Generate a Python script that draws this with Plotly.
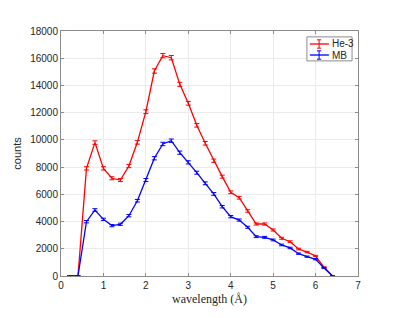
import plotly.graph_objects as go

wavelength = [0.2, 0.4, 0.6, 0.8, 1.0, 1.2, 1.4, 1.6, 1.8, 2.0, 2.2, 2.4, 2.6, 2.8, 3.0, 3.2,
              3.4, 3.6, 3.8, 4.0, 4.2, 4.4, 4.6, 4.8, 5.0, 5.2, 5.4, 5.6, 5.8, 6.0, 6.2, 6.4]
he3_counts = [0, 0, 7910, 9800, 7910, 7180, 7050, 8080, 9820, 12070, 15060, 16190, 16040, 14080,
              12690, 11070, 9750, 8470, 7300, 6150, 5750, 4780, 3820, 3820, 3380, 2770, 2520,
              1980, 1760, 1470, 640, 0]
he3_err = [0, 0, 120, 130, 120, 110, 110, 120, 130, 140, 160, 160, 160, 150, 140, 130, 130, 120,
           110, 100, 100, 90, 80, 80, 75, 70, 65, 60, 55, 50, 35, 0]
mb_counts = [0, 0, 3990, 4850, 4160, 3700, 3800, 4430, 5530, 7050, 8650, 9700, 9940, 9060, 8350,
             7590, 6810, 6030, 5090, 4360, 4110, 3580, 2890, 2840, 2650, 2280, 2060, 1640, 1420,
             1230, 590, 0]
mb_err = [0, 0, 85, 95, 85, 80, 80, 85, 95, 110, 120, 125, 125, 120, 115, 110, 105, 100, 90,
          85, 80, 75, 70, 70, 65, 60, 55, 50, 45, 45, 30, 0]

series_names = ["He-3", "MB"]
series_colors = ["#ff0000", "#0000ff"]

x_ticks = [0, 1, 2, 3, 4, 5, 6, 7]
y_ticks = [0, 2000, 4000, 6000, 8000, 10000, 12000, 14000, 16000, 18000]

AX = "#262626"
BOX = "#8c8c8c"
SANS = "Liberation Sans, Arial, sans-serif"

fig = go.Figure()
for name, y, e, c in zip(series_names, [he3_counts, mb_counts], [he3_err, mb_err], series_colors):
    fig.add_trace(go.Scatter(
        x=wavelength, y=y, name=name, mode="lines",
        line=dict(color=c, width=1.3),
        error_y=dict(type="data", array=e, visible=True, color=c, thickness=1, width=2.5),
        showlegend=False,
    ))

axis_common = dict(
    showline=True, linecolor=BOX, linewidth=1, mirror="ticks",
    ticks="inside", ticklen=3, tickcolor=BOX,
    showgrid=True, gridcolor="#ebebeb", gridwidth=1,
    zeroline=False, automargin=False,
    tickfont=dict(family=SANS, size=10, color=AX),
)

# custom MATLAB-style legend box (paper coordinates)
shapes = [dict(type="rect", xref="paper", yref="paper", x0=0.828, x1=0.980, y0=0.878, y1=0.976,
               line=dict(color=BOX, width=1), fillcolor="white", layer="above")]
annotations = []
row_y = [0.947, 0.902]
for name, c, ry in zip(series_names, series_colors, row_y):
    shapes.append(dict(type="line", xref="paper", yref="paper", x0=0.838, x1=0.902, y0=ry, y1=ry,
                       line=dict(color=c, width=1.3), layer="above"))
    shapes.append(dict(type="line", xref="paper", yref="paper", x0=0.869, x1=0.869,
                       y0=ry - 0.017, y1=ry + 0.017, line=dict(color=c, width=1), layer="above"))
    for cy in (ry - 0.017, ry + 0.017):
        shapes.append(dict(type="line", xref="paper", yref="paper", x0=0.862, x1=0.876,
                           y0=cy, y1=cy, line=dict(color=c, width=1), layer="above"))
    annotations.append(dict(text=name, xref="paper", yref="paper", x=0.905, y=ry,
                            xanchor="left", yanchor="middle", showarrow=False,
                            font=dict(family=SANS, size=10, color=AX)))

fig.update_layout(
    width=399, height=310,
    margin=dict(l=53, r=49, t=23, b=42),
    paper_bgcolor="white", plot_bgcolor="white",
    xaxis=dict(range=[0, 7], tickvals=x_ticks, tickformat="d",
               title=dict(text="wavelength (Å)", standoff=4,
                          font=dict(family="Liberation Serif, DejaVu Serif, serif", size=12, color=AX)),
               **axis_common),
    yaxis=dict(range=[0, 18000], tickvals=y_ticks, tickformat="d",
               title=dict(text="counts", standoff=6,
                          font=dict(family=SANS, size=11, color=AX)),
               **axis_common),
    shapes=shapes,
    annotations=annotations,
    showlegend=False,
)

fig.write_html("out.html")
